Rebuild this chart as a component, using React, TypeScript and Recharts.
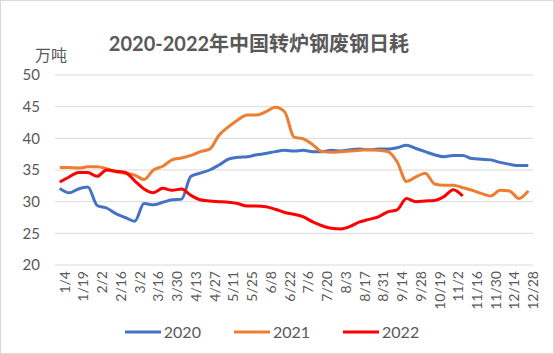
import { LineChart, Line, XAxis, YAxis, CartesianGrid, Legend } from "recharts";

const weeks = [
  "1/4", "1/11", "1/19", "1/26", "2/2", "2/9", "2/16", "2/23", "3/2", "3/9",
  "3/16", "3/23", "3/30", "4/6", "4/13", "4/20", "4/27", "5/4", "5/11", "5/18",
  "5/25", "6/1", "6/8", "6/15", "6/22", "6/29", "7/6", "7/13", "7/20", "7/27",
  "8/3", "8/10", "8/17", "8/24", "8/31", "9/7", "9/14", "9/21", "9/28", "10/12",
  "10/19", "10/26", "11/2", "11/9", "11/16", "11/23", "11/30", "12/7", "12/14", "12/21",
  "12/28",
];

const y2020 = [
  32.1, 31.4, 32.0, 32.3, 29.4, 29.0, 28.1, 27.5, 26.9, 29.7,
  29.5, 29.9, 30.3, 30.4, 34.0, 34.5, 35.0, 35.8, 36.7, 37.0,
  37.1, 37.4, 37.6, 37.9, 38.1, 38.0, 38.1, 37.9, 37.9, 38.1,
  38.0, 38.2, 38.3, 38.2, 38.3, 38.3, 38.5, 38.9, 38.4, 37.9,
  37.4, 37.1, 37.3, 37.3, 36.8, 36.7, 36.6, 36.2, 35.9, 35.7,
  35.7,
];

const y2021 = [
  35.4, 35.4, 35.3, 35.5, 35.5, 35.2, 34.7, 34.5, 34.2, 33.5,
  35.0, 35.6, 36.6, 36.9, 37.3, 37.9, 38.3, 40.5, 41.8, 42.9,
  43.7, 43.7, 44.2, 44.9, 44.2, 40.2, 39.9, 39.0, 37.9, 37.8,
  37.9, 38.0, 38.1, 38.2, 38.1, 37.9, 36.3, 33.2, 33.9, 34.5,
  32.8, 32.6, 32.6, 32.2, 31.8, 31.3, 30.9, 31.8, 31.7, 30.5,
  31.7,
];

const y2022 = [
  33.1, 33.9, 34.6, 34.6, 34.0, 35.0, 34.8, 34.6, 33.3, 32.0,
  31.4, 32.1, 31.8, 32.0, 31.0, 30.3, 30.1, 30.0, 29.9, 29.7,
  29.3, 29.3, 29.2, 28.8, 28.3, 28.0, 27.6, 26.8, 26.2, 25.8,
  25.7, 26.1, 26.8, 27.2, 27.6, 28.4, 28.7, 30.5, 30.0, 30.1,
  30.2, 30.8, 31.9, 30.9,
];

const yTicks = [20, 25, 30, 35, 40, 45, 50];

const data = weeks.map((w, i) => ({
  week: w,
  "2020": y2020[i],
  "2021": y2021[i],
  "2022": i < y2022.length ? y2022[i] : null,
}));

const textColor = "#595959";
const font = "Lato, 'Noto Sans CJK SC', sans-serif";

function LegendContent({ payload }: any) {
  return (
    <div style={{ display: "flex", justifyContent: "center", gap: 33, fontFamily: font, fontSize: 16, color: textColor }}>
      {(payload || []).map((p: any) => (
        <div key={p.value} style={{ display: "flex", alignItems: "center" }}>
          <svg width={36} height={6} style={{ marginRight: 3 }}>
            <line x1={0} y1={3} x2={36} y2={3} stroke={p.color} strokeWidth={3} />
          </svg>
          <span>{p.value}</span>
        </div>
      ))}
    </div>
  );
}

export default function App() {
  return (
    <div
      style={{
        position: "absolute",
        left: 0,
        top: 0,
        width: 554,
        height: 354,
        background: "#fff",
        border: "1px solid #d9d9d9",
        boxSizing: "border-box",
        overflow: "hidden",
      }}
    >
      <div
        style={{
          position: "absolute",
          left: 0,
          width: 516,
          top: 29,
          textAlign: "center",
          fontFamily: font,
          fontWeight: 700,
          fontSize: 20,
          color: textColor,
          lineHeight: "26px",
        }}
      >
        2020-2022年中国转炉钢废钢日耗
      </div>
      <div
        style={{
          position: "absolute",
          left: 34,
          top: 44,
          fontFamily: font,
          fontSize: 16,
          color: textColor,
          lineHeight: "20px",
        }}
      >
        万吨
      </div>
      <div style={{ position: "absolute", left: -1, top: -1 }}>
        <LineChart width={554} height={354} data={data} margin={{ top: 75, right: 21, left: 8, bottom: 39 }}>
          <CartesianGrid vertical={false} stroke="#d9d9d9" />
          <XAxis
            dataKey="week"
            interval={1}
            height={50}
            axisLine={false}
            tickLine={false}
            tickMargin={0}
            padding={{ left: 4.7, right: 4.7 }}
            tick={{ angle: -90, textAnchor: "end", verticalAnchor: "middle", fill: textColor, fontSize: 14, fontFamily: font } as any}
          />
          <YAxis
            domain={[20, 50]}
            ticks={yTicks}
            width={47}
            axisLine={false}
            tickLine={false}
            tickMargin={9}
            tick={{ fill: textColor, fontSize: 15, fontFamily: font }}
          />
          <Legend
            layout="horizontal"
            verticalAlign="middle"
            align="center"
            content={<LegendContent />}
            wrapperStyle={{ position: "absolute", top: 322, left: 0, width: 544 }}
          />
          <Line type="monotone" dataKey="2020" stroke="#4472C4" strokeWidth={3} dot={false} isAnimationActive={false} />
          <Line type="monotone" dataKey="2021" stroke="#ED7D31" strokeWidth={3} dot={false} isAnimationActive={false} />
          <Line type="monotone" dataKey="2022" stroke="#FF0000" strokeWidth={3} dot={false} connectNulls={false} isAnimationActive={false} />
        </LineChart>
      </div>
    </div>
  );
}
